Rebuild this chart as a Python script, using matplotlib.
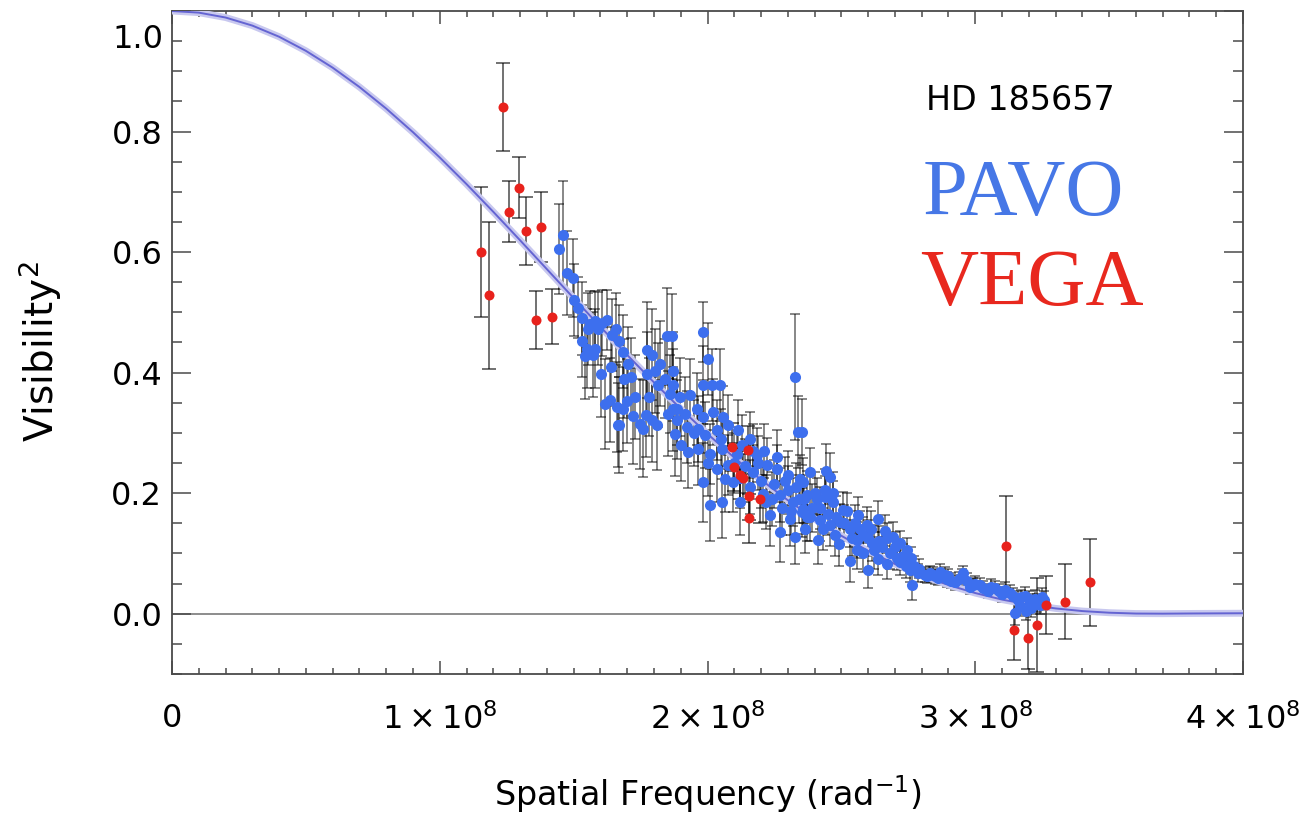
import matplotlib
matplotlib.use("Agg")
import matplotlib.pyplot as plt
from matplotlib.ticker import MultipleLocator, FixedLocator
import numpy as np

plt.rcParams['font.family'] = ['DejaVu Sans']
plt.rcParams['mathtext.fontset'] = 'dejavusans'

# ---------------- data (spatial frequency in units of 1e8 rad^-1) ----------------
# fitted model curve
model_sf = [0.0, 0.1, 0.2, 0.3, 0.4, 0.5, 0.6, 0.7, 0.8, 0.9, 1.0, 1.1, 1.2, 1.3,
            1.4, 1.5, 1.6, 1.7, 1.8, 1.9, 2.0, 2.1, 2.2, 2.3, 2.4, 2.5, 2.6, 2.7,
            2.8, 2.9, 3.0, 3.1, 3.2, 3.3, 3.4, 3.5, 3.6, 3.7, 3.8, 3.9, 4.0]
model_v2 = [1.0, 0.9973, 0.9892, 0.9758, 0.9573, 0.9339, 0.9060, 0.8739, 0.8381,
            0.7989, 0.7570, 0.7128, 0.6668, 0.6196, 0.5717, 0.5237, 0.4761, 0.4293,
            0.3839, 0.3401, 0.2984, 0.2590, 0.2222, 0.1883, 0.1572, 0.1293, 0.1043,
            0.0825, 0.0636, 0.0476, 0.0343, 0.0235, 0.0151, 0.0088, 0.0044, 0.0017,
            0.0003, 0.0001, 0.0004, 0.0006, 0.0008]

# VEGA points
vega_sf = [1.154, 1.184, 1.236, 1.259, 1.296, 1.322, 1.378, 1.359, 1.419,
           2.091, 2.151, 2.099, 2.121, 2.133, 2.155, 2.196, 2.155,
           3.115, 3.145, 3.197, 3.231, 3.264, 3.335, 3.428]
vega_v2 = [0.600, 0.528, 0.840, 0.667, 0.707, 0.635, 0.642, 0.488, 0.493,
           0.277, 0.272, 0.243, 0.230, 0.225, 0.195, 0.190, 0.158,
           0.113, -0.027, -0.040, -0.018, 0.015, 0.020, 0.052]
vega_err = [0.108, 0.122, 0.073, 0.051, 0.050, 0.057, 0.058, 0.048, 0.046,
            0.040, 0.040, 0.040, 0.040, 0.040, 0.040, 0.040, 0.040,
            0.083, 0.050, 0.052, 0.078, 0.048, 0.062, 0.072]

# PAVO points
pavo_sf = [1.445, 1.460, 1.475, 1.498, 1.517, 1.531, 1.543, 1.550, 1.554, 1.561,
           1.572, 1.580, 1.591, 1.602, 1.606, 1.617, 1.624, 1.636, 1.643, 1.658,
           1.662, 1.666, 1.670, 1.670, 1.684, 1.684, 1.699,
           1.703, 1.714, 1.722, 1.748, 1.759, 1.770, 1.774, 1.774, 1.793, 1.793,
           1.804, 1.811, 1.815, 1.823, 1.841, 1.849, 1.852, 1.860, 1.867, 1.871,
           1.871, 1.879, 1.886, 1.886, 1.897, 1.916, 1.923, 1.927, 1.935, 1.961,
           1.965, 1.965, 1.983, 1.983, 1.983, 1.983, 1.991,
           2.002, 2.009, 2.009, 2.017, 2.021, 2.035, 2.035, 2.047, 2.054, 2.054,
           2.058, 2.065, 2.077, 2.077, 2.095, 2.110, 2.114, 2.121, 2.159, 2.170,
           2.185, 2.207, 2.222, 2.233, 2.260, 2.271, 2.271, 2.301, 2.308, 2.319,
           2.327, 2.327, 2.338, 2.345, 2.353, 2.353, 2.357, 2.357, 2.364, 2.372,
           2.383, 2.383,
           2.409, 2.413, 2.420, 2.439, 2.443, 2.457, 2.457, 2.469, 2.476, 2.495,
           2.506, 2.532, 2.532, 2.558, 2.562, 2.581, 2.596, 2.599, 2.614, 2.637,
           2.637, 2.663, 2.670, 2.693, 2.708, 2.719, 2.745, 2.756, 2.764, 2.786,
           2.812, 2.820, 2.842, 2.850, 2.887, 2.894, 2.924, 2.951, 2.954, 2.980,
           2.991, 3.018, 3.048, 3.074, 3.100, 3.130, 3.149, 3.160, 3.167, 3.186,
           3.204, 3.223, 3.242, 3.257,
           2.300, 2.330, 2.360, 2.390, 2.420, 2.450, 2.480, 2.510, 2.540, 2.570,
           2.600, 2.620, 2.650, 2.680, 2.720, 2.740, 2.250, 2.280, 2.200, 2.140,
           2.170, 2.120, 2.220, 2.440, 2.490, 2.560,
           2.830, 2.860, 2.870, 2.900, 2.910, 2.940, 2.970, 3.000, 3.030, 3.060,
           3.090, 3.110, 3.140, 3.170, 3.200, 3.210, 3.230, 3.250, 3.190, 2.790,
           2.770, 2.760,
           2.100, 2.130, 2.160, 2.190, 2.210, 2.240, 2.260, 2.290, 2.310, 2.340,
           2.370, 2.400, 2.430, 2.470, 2.520, 2.550, 2.580, 2.610, 2.640, 2.670,
           2.700, 2.730, 2.050, 2.000, 1.950, 1.900, 1.870, 1.780, 1.730, 1.690,
           1.640, 1.580, 1.530, 1.500]
pavo_v2 = [0.605, 0.628, 0.565, 0.557, 0.508, 0.453, 0.427, 0.440, 0.472, 0.480,
           0.430, 0.485, 0.473, 0.397, 0.482, 0.348, 0.487, 0.355, 0.462, 0.472,
           0.343, 0.313, 0.452, 0.313, 0.435, 0.340, 0.353,
           0.415, 0.393, 0.328, 0.315, 0.307, 0.330, 0.438, 0.398, 0.430, 0.322,
           0.403, 0.313, 0.380, 0.415, 0.390, 0.460, 0.332, 0.365, 0.460, 0.340,
           0.402, 0.298, 0.322, 0.340, 0.360, 0.332, 0.310, 0.268, 0.363, 0.340,
           0.307, 0.273, 0.468, 0.380, 0.327, 0.218, 0.297,
           0.423, 0.265, 0.180, 0.380, 0.335, 0.305, 0.240, 0.380, 0.273, 0.185,
           0.327, 0.223, 0.313, 0.247, 0.218, 0.265, 0.305, 0.185, 0.290, 0.235,
           0.263, 0.198, 0.247, 0.163, 0.240, 0.197, 0.135, 0.230, 0.157, 0.185,
           0.393, 0.127, 0.302, 0.223, 0.302, 0.168, 0.173, 0.218, 0.140, 0.197,
           0.235, 0.160,
           0.190, 0.123, 0.155, 0.193, 0.237, 0.227, 0.147, 0.185, 0.130, 0.152,
           0.172, 0.140, 0.088, 0.122, 0.163, 0.130, 0.147, 0.073, 0.118, 0.157,
           0.090, 0.138, 0.082, 0.127, 0.093, 0.118, 0.105, 0.073, 0.047, 0.068,
           0.065, 0.063, 0.065, 0.062, 0.065, 0.057, 0.052, 0.062, 0.068, 0.045,
           0.047, 0.047, 0.038, 0.042, 0.032, 0.035, 0.002, 0.023, 0.012, 0.030,
           0.018, 0.025, 0.015, 0.022,
           0.205, 0.210, 0.190, 0.175, 0.175, 0.165, 0.160, 0.150, 0.125, 0.140,
           0.125, 0.105, 0.110, 0.100, 0.085, 0.080, 0.215, 0.175, 0.220, 0.245,
           0.270, 0.225, 0.185, 0.205, 0.115, 0.105,
           0.068, 0.060, 0.070, 0.062, 0.055, 0.058, 0.055, 0.050, 0.042, 0.045,
           0.038, 0.040, 0.030, 0.028, 0.025, 0.010, 0.018, 0.028, 0.005, 0.075,
           0.080, 0.092,
           0.250, 0.280, 0.210, 0.250, 0.270, 0.190, 0.260, 0.220, 0.170, 0.190,
           0.160, 0.200, 0.140, 0.200, 0.170, 0.150, 0.100, 0.140, 0.120, 0.125,
           0.110, 0.095, 0.290, 0.250, 0.300, 0.280, 0.380, 0.360, 0.360, 0.390,
           0.410, 0.440, 0.490, 0.520]
pavo_err = [0.075, 0.090, 0.070, 0.065, 0.050, 0.060, 0.070, 0.065, 0.060, 0.055,
            0.070, 0.050, 0.060, 0.070, 0.055, 0.075, 0.050, 0.070, 0.060, 0.060,
            0.075, 0.070, 0.060, 0.080, 0.060, 0.070, 0.070,
            0.060, 0.065, 0.080, 0.075, 0.080, 0.070, 0.080, 0.070, 0.075, 0.070,
            0.070, 0.075, 0.070, 0.070, 0.065, 0.080, 0.070, 0.065, 0.070, 0.070,
            0.065, 0.070, 0.065, 0.060, 0.065, 0.060, 0.060, 0.060, 0.060, 0.060,
            0.055, 0.060, 0.050, 0.065, 0.060, 0.065, 0.055,
            0.060, 0.050, 0.060, 0.060, 0.055, 0.050, 0.055, 0.060, 0.050, 0.060,
            0.050, 0.055, 0.050, 0.050, 0.050, 0.045, 0.050, 0.055, 0.045, 0.045,
            0.045, 0.045, 0.045, 0.050, 0.040, 0.045, 0.050, 0.040, 0.045, 0.040,
            0.105, 0.045, 0.060, 0.040, 0.055, 0.040, 0.040, 0.040, 0.040, 0.040,
            0.040, 0.040,
            0.035, 0.040, 0.035, 0.035, 0.045, 0.040, 0.035, 0.035, 0.035, 0.030,
            0.030, 0.030, 0.035, 0.030, 0.030, 0.030, 0.030, 0.030, 0.030, 0.030,
            0.025, 0.025, 0.025, 0.025, 0.020, 0.020, 0.020, 0.020, 0.025, 0.015,
            0.012, 0.012, 0.012, 0.012, 0.012, 0.012, 0.012, 0.012, 0.012, 0.012,
            0.012, 0.012, 0.012, 0.012, 0.012, 0.012, 0.020, 0.015, 0.015, 0.015,
            0.015, 0.015, 0.015, 0.015,
            0.040, 0.040, 0.040, 0.040, 0.035, 0.035, 0.035, 0.030, 0.030, 0.030,
            0.030, 0.030, 0.025, 0.025, 0.020, 0.020, 0.040, 0.045, 0.045, 0.045,
            0.045, 0.050, 0.045, 0.035, 0.035, 0.030,
            0.012, 0.012, 0.012, 0.012, 0.012, 0.012, 0.012, 0.012, 0.012, 0.012,
            0.012, 0.012, 0.012, 0.012, 0.012, 0.015, 0.015, 0.015, 0.015, 0.015,
            0.015, 0.018,
            0.050, 0.050, 0.045, 0.045, 0.045, 0.045, 0.045, 0.040, 0.040, 0.040,
            0.040, 0.035, 0.035, 0.035, 0.030, 0.030, 0.030, 0.030, 0.025, 0.025,
            0.025, 0.020, 0.050, 0.055, 0.055, 0.060, 0.060, 0.065, 0.070, 0.065,
            0.065, 0.065, 0.060, 0.060]

x_ticks = [0, 1, 2, 3, 4]
x_tick_labels = ['0', r'$1\times10^{8}$', r'$2\times10^{8}$', r'$3\times10^{8}$', r'$4\times10^{8}$']
y_ticks = [0.0, 0.2, 0.4, 0.6, 0.8, 1.0]
y_tick_labels = ['0.0', '0.2', '0.4', '0.6', '0.8', '']

SCALE = 1e8

# ---------------- figure ----------------
W, H = 1306, 815
fig = plt.figure(figsize=(W / 100, H / 100), dpi=100)
L, R, T, B = 172, 1243, 11, 674
ax = fig.add_axes([L / W, 1 - B / H, (R - L) / W, (B - T) / H])

msf = np.array(model_sf) * SCALE
ax.plot(msf, model_v2, color='#c8c8ef', lw=5, zorder=3, solid_capstyle='butt')
ax.plot(msf, model_v2, color='#6464d2', lw=1.4, zorder=3.1)

ax.axhline(0.0, color='#8c8c8c', lw=1.4, zorder=1)

psf = np.array(pavo_sf) * SCALE
vsf = np.array(vega_sf) * SCALE
ax.errorbar(psf, pavo_v2, yerr=pavo_err, fmt='none', ecolor='black', alpha=0.55,
            elinewidth=1.2, capsize=3.8, capthick=1.2, zorder=2)
ax.errorbar(vsf, vega_v2, yerr=vega_err, fmt='none', ecolor='black', alpha=0.6,
            elinewidth=1.3, capsize=4.8, capthick=1.3, zorder=2)
ax.plot(psf, pavo_v2, 'o', color='#3d6fee', ms=8.0, mec='none', zorder=4)
ax.plot(vsf, vega_v2, 'o', color='#e8221c', ms=7.2, mec='none', zorder=5)

ax.set_xlim(0, 4 * SCALE)
ax.set_ylim(-0.1, 1.0)

ax.xaxis.set_major_locator(FixedLocator([v * SCALE for v in x_ticks]))
ax.set_xticklabels(x_tick_labels)
ax.xaxis.set_minor_locator(MultipleLocator(0.1 * SCALE))
ax.yaxis.set_major_locator(FixedLocator(y_ticks))
ax.set_yticklabels(y_tick_labels)
ax.yaxis.set_minor_locator(MultipleLocator(0.05))

spine_c = '#4a4a4a'
for s in ax.spines.values():
    s.set_color(spine_c)
    s.set_linewidth(1.3)
ax.tick_params(which='both', direction='in', top=True, right=True, color=spine_c, width=1.1)
ax.tick_params(axis='x', which='major', length=9.5, pad=21, labelsize=23)
ax.tick_params(axis='x', which='minor', length=4.5)
ax.tick_params(axis='y', which='major', length=13.5, pad=7, labelsize=23)
ax.tick_params(axis='y', which='minor', length=7)

# displaced "1.0" label as in the original
fig.text(163 / W, 1 - 40 / H, '1.0', ha='right', va='center', fontsize=23)

ax.set_xlabel('Spatial Frequency (rad$^{-1}$)', fontsize=24)
ax.xaxis.set_label_coords(0.5, -(794 - B) / (B - T))
ax.xaxis.label.set_va('center')
ax.set_ylabel('Visibility$^{2}$', fontsize=28)
ax.yaxis.set_label_coords((64 - L) / (R - L), (B - 352) / (B - T))

fig.text(926 / W, 1 - 110 / H, 'HD 185657', fontsize=24, color='black', va='baseline')
fig.text(923 / W, 1 - 215 / H, 'PAVO', fontsize=58, color='#4677e6',
         family='Liberation Serif', va='baseline')
fig.text(920 / W, 1 - 305 / H, 'VEGA', fontsize=58, color='#e8281e',
         family='Liberation Serif', va='baseline')

fig.savefig('out.png', dpi=100)
